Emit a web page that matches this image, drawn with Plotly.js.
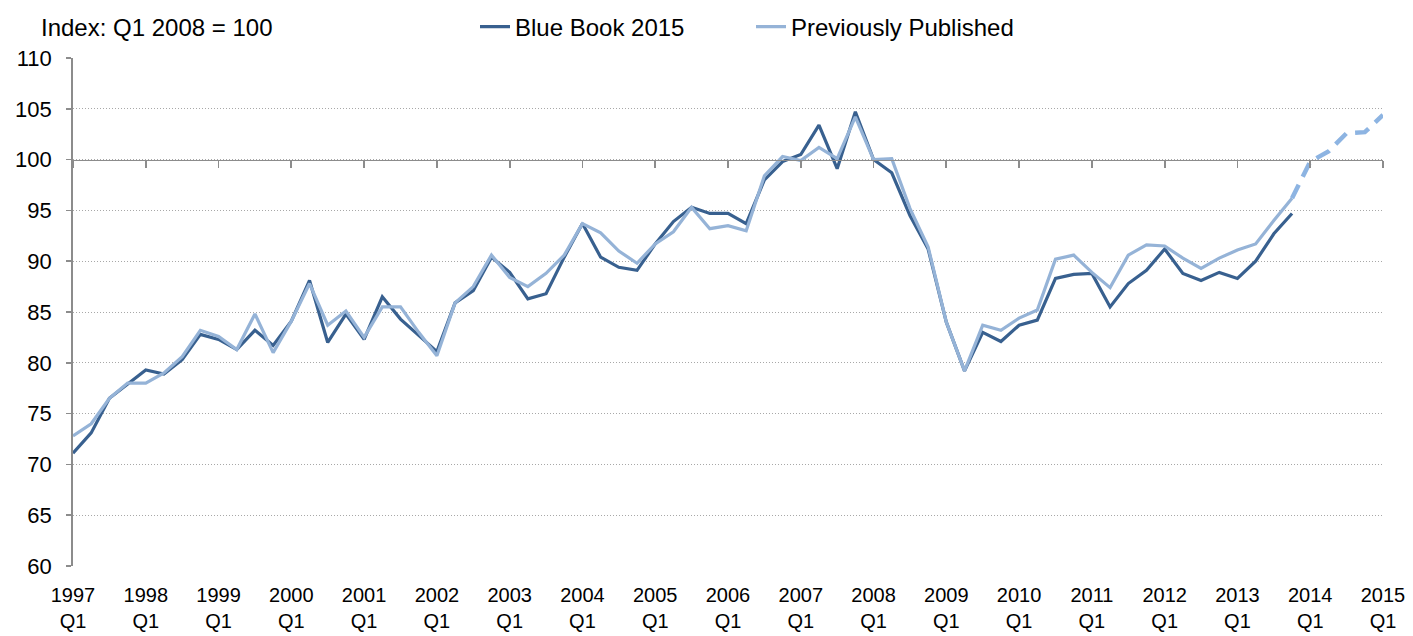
<!DOCTYPE html>
<html>
<head>
<meta charset="utf-8">
<script src="https://cdn.plot.ly/plotly-3.0.1.min.js"></script>
<style>html,body{margin:0;padding:0;background:#fff;}#chart{width:1413px;height:636px;}</style>
</head>
<body>
<div id="chart"></div>
<script>
// Quarterly series, starting 1997 Q1
const startYear = 1997;
const yearLabels = ["1997","1998","1999","2000","2001","2002","2003","2004","2005","2006","2007","2008","2009","2010","2011","2012","2013","2014","2015"];
const blueBook2015 = [
  71.1, 73.1, 76.5, 77.9, 79.3, 78.9, 80.3, 82.8, 82.3, 81.3, 83.2, 81.7,
  84.1, 88.1, 82.0, 84.8, 82.3, 86.5, 84.3, 82.7, 81.1, 85.9, 87.1, 90.4,
  88.9, 86.3, 86.8, 90.4, 93.7, 90.4, 89.4, 89.1, 91.7, 93.9, 95.3, 94.7,
  94.7, 93.7, 98.0, 99.8, 100.5, 103.4, 99.1, 104.7, 100.0, 98.7, 94.5, 91.2,
  84.0, 79.2, 83.0, 82.1, 83.7, 84.2, 88.3, 88.7, 88.8, 85.5, 87.8, 89.1,
  91.2, 88.8, 88.1, 88.9, 88.3, 90.0, 92.7, 94.7
];
const previouslyPublished = [
  72.8, 74.0, 76.5, 78.0, 78.0, 79.0, 80.6, 83.2, 82.6, 81.3, 84.8, 81.0,
  84.1, 87.8, 83.7, 85.1, 82.5, 85.5, 85.5, 83.0, 80.7, 85.9, 87.5, 90.6,
  88.4, 87.5, 88.8, 90.6, 93.7, 92.8, 91.0, 89.8, 91.7, 92.9, 95.3, 93.2,
  93.5, 93.0, 98.4, 100.3, 99.9, 101.2, 100.1, 104.2, 100.0, 100.1, 95.2, 91.4,
  84.0, 79.2, 83.7, 83.2, 84.4, 85.2, 90.2, 90.6, 88.9, 87.4, 90.6, 91.6,
  91.5, 90.3, 89.3, 90.3, 91.1, 91.7, 94.0, 96.2
];
// dashed continuation, 2013 Q4 to 2015 Q1
const previouslyPublishedExt = [96.2, 99.8, 100.8, 102.6, 102.7, 104.4];
const extStartIndex = 67;

const qx = (i) => startYear + i / 4;
const xBB = blueBook2015.map((_, i) => qx(i));
const xPP = previouslyPublished.map((_, i) => qx(i));
const xExt = previouslyPublishedExt.map((_, i) => qx(extStartIndex + i));
const tickVals = yearLabels.map(Number);
const tickText = yearLabels.map(y => y + "<br>Q1");

const FONT = "Liberation Sans, Arial, sans-serif";
const DARK = "#38608F";
const LIGHT = "#95B3D7";
const DASH = "#8DB4E2";

const traces = [
  {x: xBB, y: blueBook2015, type: "scatter", mode: "lines", name: "Blue Book 2015",
   line: {color: DARK, width: 3.2}, legend: "legend"},
  {x: xPP, y: previouslyPublished, type: "scatter", mode: "lines", name: "Previously Published",
   line: {color: LIGHT, width: 3.2}, legend: "legend2", xaxis: "x2"},
  {x: xExt, y: previouslyPublishedExt, type: "scatter", mode: "lines", showlegend: false,
   line: {color: DASH, width: 4.5, dash: "15px,9px"}, xaxis: "x2"}
];

const layout = {
  width: 1413, height: 636,
  margin: {l: 73, r: 30, t: 58, b: 70},
  paper_bgcolor: "#fff", plot_bgcolor: "#fff",
  font: {family: FONT, size: 20, color: "#000"},
  xaxis: {
    range: [1997, 2015], tickvals: tickVals, ticktext: tickText,
    showgrid: false, zeroline: false, showline: false, ticks: "",
    tickfont: {size: 20}, ticklabelstandoff: 15
  },
  xaxis2: {
    overlaying: "x", anchor: "free", position: 0.8, side: "bottom",
    range: [1997, 2015], tickvals: tickVals, showticklabels: false,
    showgrid: false, zeroline: false, showline: true, linecolor: "#8c8c8c", linewidth: 1.8,
    ticks: "outside", ticklen: 7, tickcolor: "#8c8c8c", tickwidth: 1.8
  },
  yaxis: {
    range: [60, 110], dtick: 5, tick0: 60,
    showgrid: true, gridcolor: "#a8a8a8", griddash: "1px,2px", gridwidth: 1,
    zeroline: false, showline: true, linecolor: "#8c8c8c", linewidth: 1.8,
    ticks: "outside", ticklen: 5, tickcolor: "#8c8c8c", tickwidth: 1.5,
    tickfont: {size: 22}, ticklabelstandoff: 10
  },
  showlegend: true,
  legend: {orientation: "h", xref: "container", x: 475 / 1413, xanchor: "left",
    yref: "container", y: 1 - 27 / 636, yanchor: "middle",
    font: {size: 24}, bgcolor: "rgba(0,0,0,0)"},
  legend2: {orientation: "h", xref: "container", x: 751 / 1413, xanchor: "left",
    yref: "container", y: 1 - 27 / 636, yanchor: "middle",
    font: {size: 24}, bgcolor: "rgba(0,0,0,0)"},
  annotations: [{
    text: "Index: Q1 2008 = 100", xref: "paper", yref: "paper",
    x: -0.026, y: 1.061, xanchor: "left", yanchor: "middle", showarrow: false,
    font: {size: 24, color: "#000"}
  }]
};

Plotly.newPlot("chart", traces, layout, {displayModeBar: false, staticPlot: true});
</script>
</body>
</html>
